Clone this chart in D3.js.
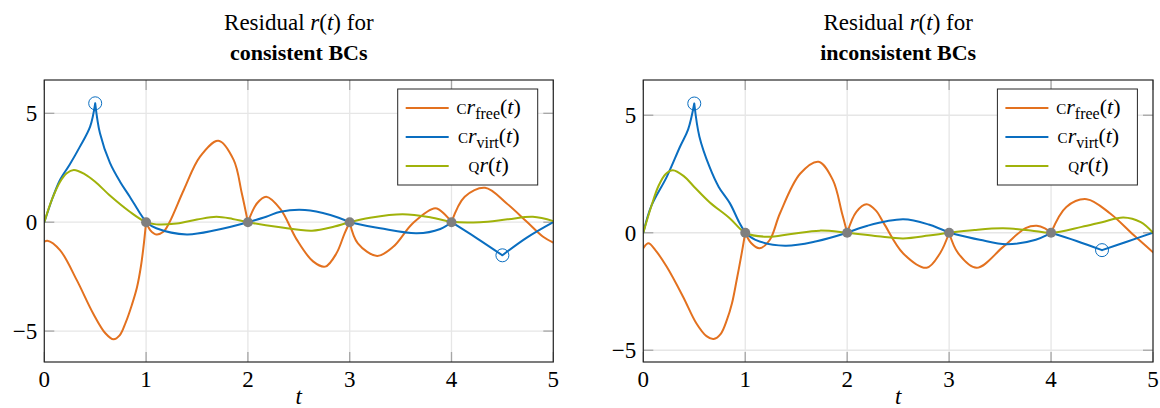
<!DOCTYPE html>
<html><head><meta charset="utf-8">
<script src="https://cdn.jsdelivr.net/npm/d3@7"></script>
<style>
body{margin:0;background:#fff}
svg{display:block}
text{font-family:"Liberation Serif","DejaVu Serif",serif;fill:#000}
</style>
</head><body>
<svg id="chart" width="1160" height="408"></svg>
<script>
// ---------- data ----------
const tTicks = [0, 1, 2, 3, 4, 5];
const yTicks = [-5, 0, 5];
const panelTitles = ["consistent BCs", "inconsistent BCs"];
const knotTimes = [1, 2, 3, 4];

const consistentFree = [[0,-0.9],[0.03,-0.85],[0.154,-1.28],[0.318,-2.65],[0.48,-4.19],[0.6,-5.1],[0.68,-5.38],[0.74,-5.2],[0.8,-4.6],[0.86,-3.8],[0.91,-3.0],[0.95,-2.0],[0.98,-0.9],[1,0],
  [1.04,-0.36],[1.1,-0.56],[1.17,-0.44],[1.23,0],[1.37,1.48],[1.53,3.01],[1.71,3.74],[1.86,2.86],[1.94,1.33],[2,0],
  [2.09,0.87],[2.18,1.17],[2.32,0.6],[2.48,-0.8],[2.64,-1.8],[2.76,-2.04],[2.87,-1.43],[2.95,-0.51],[3,0],
  [3.08,-0.97],[3.27,-1.55],[3.43,-1.12],[3.62,-0.05],[3.84,0.64],[3.94,0.33],[4,0],
  [4.13,1.17],[4.33,1.58],[4.54,0.87],[4.74,0.02],[4.9,-0.67],[5,-0.94]];
const consistentVirt = [[0,0],[0.08,1.1],[0.154,1.94],[0.25,2.65],[0.35,3.47],[0.45,4.39],[0.5,5.46],
  [0.547,4.08],[0.645,2.72],[0.744,1.86],[0.84,1.17],[0.94,0.41],[1,0],
  [1.1,-0.28],[1.4,-0.56],[1.69,-0.36],[2,0],
  [2.18,0.25],[2.32,0.48],[2.56,0.56],[2.81,0.33],[3,0],
  [3.3,-0.28],[3.66,-0.51],[3.89,-0.31],[4,0],
  [4.25,-0.74],[4.5,-1.52],[4.74,-0.71],[5,0]];
const consistentQ = [[0,0],[0.08,1.1],[0.154,1.85],[0.22,2.25],[0.29,2.4],[0.4,2.2],[0.5,1.86],[0.65,1.2],[0.84,0.48],[1,0],
  [1.1,-0.1],[1.3,-0.06],[1.5,0.12],[1.69,0.25],[1.85,0.15],[2,0],[2.3,-0.22],[2.63,-0.39],[2.85,-0.2],[3,0],
  [3.2,0.2],[3.52,0.36],[3.8,0.22],[4,0.02],[4.28,0],[4.55,0.13],[4.8,0.25],[5,0.05]];
const consistentMarkers = [[0.5,5.46],[4.5,-1.52]];

const inconsistentFree = [[0,-0.66],[0.05,-0.45],[0.12,-0.75],[0.23,-1.45],[0.39,-2.72],[0.52,-3.85],[0.62,-4.4],[0.69,-4.52],[0.76,-4.3],[0.82,-3.71],[0.87,-3.0],[0.916,-2.01],[0.965,-0.88],[1,0],
  [1.06,-0.45],[1.14,-0.66],[1.24,-0.31],[1.34,0.82],[1.54,2.52],[1.72,3.02],[1.86,2.24],[1.95,0.82],[2,0],
  [2.09,0.89],[2.19,1.21],[2.28,0.95],[2.36,0.4],[2.55,-0.88],[2.78,-1.49],[2.91,-0.88],[3,0],
  [3.09,-0.88],[3.27,-1.49],[3.53,-0.6],[3.75,0.2],[3.86,0.3],[3.94,0.19],[4,0],
  [4.15,1.1],[4.35,1.43],[4.58,0.82],[4.81,-0.1],[5,-0.83]];
const inconsistentVirt = [[0,0],[0.08,1.15],[0.23,2.38],[0.36,3.66],[0.44,4.4],[0.5,5.5],
  [0.55,4.1],[0.65,2.8],[0.74,1.95],[0.85,1.25],[0.94,0.45],[1,0],
  [1.1,-0.3],[1.39,-0.55],[1.7,-0.36],[2,0],[2.2,0.3],[2.55,0.57],[2.8,0.35],[3,0],
  [3.3,-0.3],[3.56,-0.49],[3.85,-0.3],[4,0],[4.25,-0.35],[4.5,-0.74],[4.75,-0.37],[5,0]];
const inconsistentQ = [[0,0],[0.08,1.15],[0.15,2.0],[0.22,2.5],[0.29,2.66],[0.4,2.4],[0.5,1.95],[0.65,1.3],[0.85,0.61],[1,0],
  [1.21,-0.17],[1.45,-0.05],[1.73,0.09],[2,0],[2.3,-0.15],[2.55,-0.24],[2.8,-0.12],[3,0],
  [3.25,0.12],[3.53,0.19],[3.8,0.1],[4,0],[4.3,0.25],[4.5,0.45],[4.71,0.65],[4.88,0.45],[5,0]];
const inconsistentMarkers = [[0.5,5.5],[4.5,-0.74]];

const yDomains = [[-6.42, 6.53], [-5.5, 6.5]];

// ---------- style ----------
const colFree = "#e3711f", colVirt = "#0a6ec0", colQ = "#a0b20a", colDot = "#7f7f7f";

const svg = d3.select("#chart");
const panels = [
  {x0: 44.3, x1: 553.3, free: consistentFree, virt: consistentVirt, q: consistentQ, markers: consistentMarkers, ydom: yDomains[0], title: panelTitles[0]},
  {x0: 643.3, x1: 1153, free: inconsistentFree, virt: inconsistentVirt, q: inconsistentQ, markers: inconsistentMarkers, ydom: yDomains[1], title: panelTitles[1]}
];
const yTop = 80, yBot = 362;

function splitAt(points, breaks) {
  const segs = []; let cur = [];
  points.forEach(p => {
    cur.push(p);
    if (breaks.includes(p[0]) && cur.length > 1) { segs.push(cur); cur = [p]; }
  });
  if (cur.length > 1) segs.push(cur);
  return segs;
}

panels.forEach(P => {
  const x = d3.scaleLinear().domain([0, 5]).range([P.x0, P.x1]);
  const y = d3.scaleLinear().domain(P.ydom).range([yBot, yTop]);
  const g = svg.append("g");
  const cx = (P.x0 + P.x1) / 2;

  // title
  const t1 = g.append("text").attr("x", cx).attr("y", 30).attr("text-anchor", "middle").style("font-size", "23px");
  t1.append("tspan").text("Residual ");
  t1.append("tspan").style("font-style", "italic").text("r");
  t1.append("tspan").text("(");
  t1.append("tspan").style("font-style", "italic").text("t");
  t1.append("tspan").text(") for");
  g.append("text").attr("x", cx).attr("y", 60).attr("text-anchor", "middle").style("font-size", "22px").style("font-weight", "bold").text(P.title);

  // grid
  g.selectAll(".gx").data(tTicks).join("line").attr("x1", d => x(d)).attr("x2", d => x(d)).attr("y1", yTop).attr("y2", yBot)
    .attr("stroke", "#e6e6e6").attr("stroke-width", 1.3);
  g.selectAll(".gy").data(yTicks).join("line").attr("y1", d => y(d)).attr("y2", d => y(d)).attr("x1", P.x0).attr("x2", P.x1)
    .attr("stroke", "#e6e6e6").attr("stroke-width", 1.3);

  // ticks (inside, all four sides)
  const tl = 10;
  tTicks.forEach(d => {
    g.append("line").attr("x1", x(d)).attr("x2", x(d)).attr("y1", yBot).attr("y2", yBot - tl).attr("stroke", "#a6a6a6").attr("stroke-width", 1.3);
    g.append("line").attr("x1", x(d)).attr("x2", x(d)).attr("y1", yTop).attr("y2", yTop + tl).attr("stroke", "#a6a6a6").attr("stroke-width", 1.3);
  });
  yTicks.forEach(d => {
    g.append("line").attr("x1", P.x0).attr("x2", P.x0 + tl).attr("y1", y(d)).attr("y2", y(d)).attr("stroke", "#a6a6a6").attr("stroke-width", 1.3);
    g.append("line").attr("x1", P.x1).attr("x2", P.x1 - tl).attr("y1", y(d)).attr("y2", y(d)).attr("stroke", "#a6a6a6").attr("stroke-width", 1.3);
  });

  // tick labels
  g.selectAll(".xl").data(tTicks).join("text").attr("x", d => x(d)).attr("y", 387).attr("text-anchor", "middle")
    .style("font-size", "23px").text(d => d);
  g.selectAll(".yl").data(yTicks).join("text").attr("x", P.x0 - 7).attr("y", d => y(d) + 8).attr("text-anchor", "end")
    .style("font-size", "23px").text(d => d < 0 ? "\u2212" + Math.abs(d) : d);
  g.append("text").attr("x", cx).attr("y", 404).attr("text-anchor", "middle").style("font-size", "23px").style("font-style", "italic").text("t");

  // curves
  const line = d3.line().x(d => x(d[0])).y(d => y(d[1])).curve(d3.curveCatmullRom.alpha(0.5));
  const series = [
    {pts: P.free, col: colFree, br: knotTimes},
    {pts: P.virt, col: colVirt, br: [0.5, 1, 2, 3, 4, 4.5]},
    {pts: P.q, col: colQ, br: []}
  ];
  const clip = "clip" + Math.round(P.x0);
  svg.append("clipPath").attr("id", clip).append("rect").attr("x", P.x0).attr("y", yTop).attr("width", P.x1 - P.x0).attr("height", yBot - yTop);
  const cg = g.append("g").attr("clip-path", `url(#${clip})`);
  series.forEach(s => {
    const segs = splitAt(s.pts, s.br);
    const dstr = segs.map(seg => line(seg)).join("");
    cg.append("path").attr("d", dstr).attr("fill", "none").attr("stroke", s.col).attr("stroke-width", 2)
      .attr("stroke-linejoin", "round").attr("stroke-linecap", "round");
  });

  // knot dots
  g.selectAll(".kd").data(knotTimes).join("circle").attr("cx", d => x(d)).attr("cy", y(0)).attr("r", 5).attr("fill", colDot);
  // markers
  g.selectAll(".mk").data(P.markers).join("circle").attr("cx", d => x(d[0])).attr("cy", d => y(d[1])).attr("r", 6.5)
    .attr("fill", "none").attr("stroke", colVirt).attr("stroke-width", 1);

  // axis box
  g.append("rect").attr("x", P.x0).attr("y", yTop).attr("width", P.x1 - P.x0).attr("height", yBot - yTop)
    .attr("fill", "none").attr("stroke", "#262626").attr("stroke-width", 1.2);

  // legend
  const lx = P.x1 - 15.6 - 140, ly = 89, lw = 140, lh = 96;
  const lg = g.append("g");
  lg.append("rect").attr("x", lx).attr("y", ly).attr("width", lw).attr("height", lh).attr("fill", "#fff").attr("stroke", "#262626").attr("stroke-width", 1);
  const rows = [
    {col: colFree, pre: "C", sub: "free"},
    {col: colVirt, pre: "C", sub: "virt"},
    {col: colQ, pre: "Q", sub: null}
  ];
  rows.forEach((r, i) => {
    const ry = ly + 19 + i * 29;
    lg.append("line").attr("x1", lx + 8).attr("x2", lx + 51).attr("y1", ry).attr("y2", ry).attr("stroke", r.col).attr("stroke-width", 2);
    const tx = lg.append("text").attr("x", lx + 91).attr("y", ry + 6).attr("text-anchor", "middle").style("font-size", "22px");
    tx.append("tspan").style("font-size", "15px").text(r.pre);
    tx.append("tspan").style("font-style", "italic").text("r");
    if (r.sub) {
      tx.append("tspan").attr("dy", 5).style("font-size", "16px").text(r.sub);
      tx.append("tspan").attr("dy", -5).text("(");
    } else {
      tx.append("tspan").text("(");
    }
    tx.append("tspan").style("font-style", "italic").text("t");
    tx.append("tspan").text(")");
  });
});
</script>
</body></html>
